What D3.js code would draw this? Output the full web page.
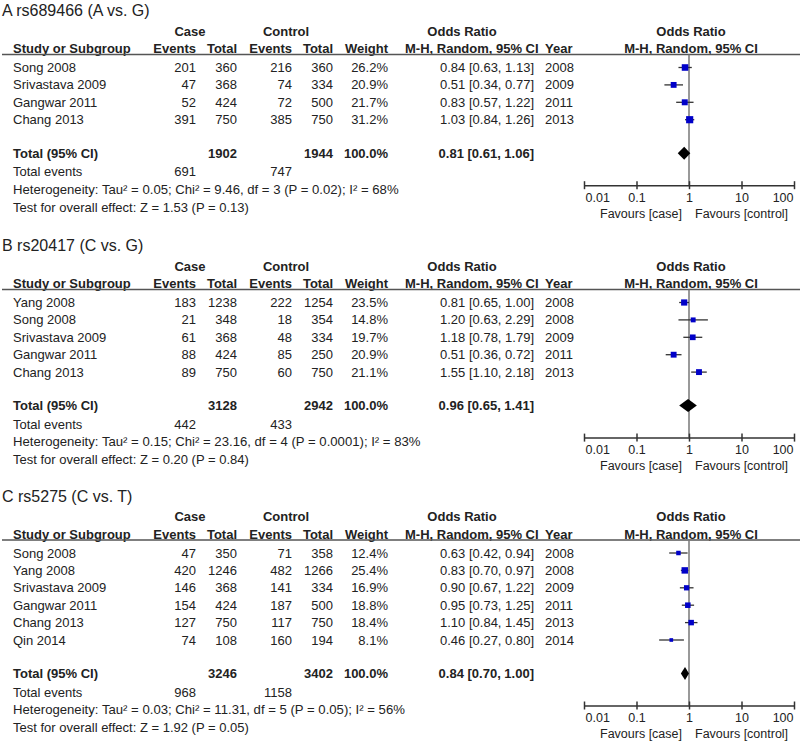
<!DOCTYPE html>
<html>
<head>
<meta charset="utf-8">
<script src="https://cdn.jsdelivr.net/npm/d3@7"></script>
<style>
  body { margin: 0; background: #fff; }
  svg text { font-family: "Liberation Sans", Arial, sans-serif; fill: #222; }
</style>
</head>
<body>
<svg id="chart" width="800" height="747"></svg>
<script>
// study rows: name, case events, case total, control events, control total, weight %, OR, lo, hi, year
const rowsA = [
    ['Song 2008', 201, 360, 216, 360, 26.2, 0.84, 0.63, 1.13, 2008],
    ['Srivastava 2009', 47, 368, 74, 334, 20.9, 0.51, 0.34, 0.77, 2009],
    ['Gangwar 2011', 52, 424, 72, 500, 21.7, 0.83, 0.57, 1.22, 2011],
    ['Chang 2013', 391, 750, 385, 750, 31.2, 1.03, 0.84, 1.26, 2013]
]
const rowsB = [
    ['Yang 2008', 183, 1238, 222, 1254, 23.5, 0.81, 0.65, 1.00, 2008],
    ['Song 2008', 21, 348, 18, 354, 14.8, 1.20, 0.63, 2.29, 2008],
    ['Srivastava 2009', 61, 368, 48, 334, 19.7, 1.18, 0.78, 1.79, 2009],
    ['Gangwar 2011', 88, 424, 85, 250, 20.9, 0.51, 0.36, 0.72, 2011],
    ['Chang 2013', 89, 750, 60, 750, 21.1, 1.55, 1.10, 2.18, 2013]
]
const rowsC = [
    ['Song 2008', 47, 350, 71, 358, 12.4, 0.63, 0.42, 0.94, 2008],
    ['Yang 2008', 420, 1246, 482, 1266, 25.4, 0.83, 0.70, 0.97, 2008],
    ['Srivastava 2009', 146, 368, 141, 334, 16.9, 0.90, 0.67, 1.22, 2009],
    ['Gangwar 2011', 154, 424, 187, 500, 18.8, 0.95, 0.73, 1.25, 2011],
    ['Chang 2013', 127, 750, 117, 750, 18.4, 1.10, 0.84, 1.45, 2013],
    ['Qin 2014', 74, 108, 160, 194, 8.1, 0.46, 0.27, 0.80, 2014]
]

// pooled: case total, control total, case events, control events, OR, lo, hi
const totalA = [1902, 1944, 691, 747, 0.81, 0.61, 1.06]
const totalB = [3128, 2942, 442, 433, 0.96, 0.65, 1.41]
const totalC = [3246, 3402, 968, 1158, 0.84, 0.70, 1.00]

const titles = ['A  rs689466 (A vs. G)', 'B  rs20417 (C vs. G)', 'C  rs5275 (C vs. T)']
const heterogeneity = [
    'Heterogeneity: Tau² = 0.05; Chi² = 9.46, df = 3 (P = 0.02); I² = 68%',
    'Heterogeneity: Tau² = 0.15; Chi² = 23.16, df = 4 (P = 0.0001); I² = 83%',
    'Heterogeneity: Tau² = 0.03; Chi² = 11.31, df = 5 (P = 0.05); I² = 56%'
]
const overall = [
    'Test for overall effect: Z = 1.53 (P = 0.13)',
    'Test for overall effect: Z = 0.20 (P = 0.84)',
    'Test for overall effect: Z = 1.92 (P = 0.05)'
]
const ticks = [0.01, 0.1, 1, 10, 100]

const panels = [
    {rows: rowsA, total: totalA},
    {rows: rowsB, total: totalB},
    {rows: rowsC, total: totalC}
]
const panelTop = [16, 251, 501.5]

const svg = d3.select('#chart')
const x = d3.scaleLog().domain([0.01, 100]).range([584, 794])
const fmt2 = d3.format('.2f')
const fmtW = d => d3.format('.1f')(d) + '%'
const orText = (o, l, h) => `${fmt2(o)} [${fmt2(l)}, ${fmt2(h)}]`

const FS = 13
const ROW = 17.4

// right edges of numeric columns
const col = {evC: 196, totC: 237, evK: 292, totK: 333, w: 388, or: 534}

const txt = (g, s, xx, yy, anchor, bold, size) =>
    g.append('text')
        .attr('x', xx)
        .attr('y', yy)
        .attr('text-anchor', anchor || 'start')
        .attr('font-weight', bold ? 'bold' : null)
        .style('font-size', (size || FS) + 'px')
        .text(s)

const drawPanel = (p, i) => {
    const T = panelTop[i]
    const g = svg.append('g')
    const {rows, total} = p

    txt(g, titles[i], 2, T, 'start', false, 16)

    // headers
    const h1 = T + 19.5, h2 = T + 37
    txt(g, 'Case', 190, h1, 'middle', true)
    txt(g, 'Control', 286, h1, 'middle', true)
    txt(g, 'Odds Ratio', 462, h1, 'middle', true)
    txt(g, 'Odds Ratio', 691, h1, 'middle', true)
    txt(g, 'Study or Subgroup', 13, h2, 'start', true)
    txt(g, 'Events', col.evC, h2, 'end', true)
    txt(g, 'Total', col.totC, h2, 'end', true)
    txt(g, 'Events', col.evK, h2, 'end', true)
    txt(g, 'Total', col.totK, h2, 'end', true)
    txt(g, 'Weight', col.w, h2, 'end', true)
    txt(g, 'M-H, Random, 95% CI', 405, h2, 'start', true)
    txt(g, 'Year', 545, h2, 'start', true)
    txt(g, 'M-H, Random, 95% CI', 691, h2, 'middle', true)

    const lineY = T + 38.5
    g.append('line')
        .attr('x1', 2).attr('x2', 800)
        .attr('y1', lineY).attr('y2', lineY)
        .attr('stroke', '#555').attr('stroke-width', 1.5)

    const y0 = T + 56
    const rowY = j => y0 + j * ROW
    const totY = rowY(rows.length - 1) + 33.5
    const axisY = totY + 27.5

    // OR = 1 reference line
    g.append('line')
        .attr('x1', x(1)).attr('x2', x(1))
        .attr('y1', lineY).attr('y2', axisY)
        .attr('stroke', '#777').attr('stroke-width', 1.5)

    rows.forEach((r, j) => {
        const yy = rowY(j)
        txt(g, r[0], 13, yy)
        txt(g, r[1], col.evC, yy, 'end')
        txt(g, r[2], col.totC, yy, 'end')
        txt(g, r[3], col.evK, yy, 'end')
        txt(g, r[4], col.totK, yy, 'end')
        txt(g, fmtW(r[5]), col.w, yy, 'end')
        txt(g, orText(r[6], r[7], r[8]), col.or, yy, 'end')
        txt(g, r[9], 545, yy, 'start')

        const cy = yy - 4.5
        g.append('line')
            .attr('x1', x(r[7])).attr('x2', x(r[8]))
            .attr('y1', cy).attr('y2', cy)
            .attr('stroke', '#333').attr('stroke-width', 1.3)
        const side = 1.28 * Math.sqrt(r[5])
        g.append('rect')
            .attr('x', x(r[6]) - side / 2)
            .attr('y', cy - side / 2)
            .attr('width', side).attr('height', side)
            .attr('fill', '#0000c8')
    })

    // pooled row
    txt(g, 'Total (95% CI)', 13, totY, 'start', true)
    txt(g, total[0], col.totC, totY, 'end', true)
    txt(g, total[1], col.totK, totY, 'end', true)
    txt(g, fmtW(100), col.w, totY, 'end', true)
    txt(g, orText(total[4], total[5], total[6]), col.or, totY, 'end', true)

    const dy = totY - 4.5
    g.append('path')
        .attr('d', d3.line()([
            [x(total[5]), dy], [x(total[4]), dy - 6.5],
            [x(total[6]), dy], [x(total[4]), dy + 6.5]
        ]) + 'Z')
        .attr('fill', '#000')

    const evY = totY + 18.5
    txt(g, 'Total events', 13, evY)
    txt(g, total[2], col.evC, evY, 'end')
    txt(g, total[3], col.evK, evY, 'end')
    txt(g, heterogeneity[i], 13, evY + 17.5, 'start', false, 13.15)
    txt(g, overall[i], 13, evY + 35.5)

    // log axis
    const ax = g.append('g')
        .attr('transform', `translate(0,${axisY})`)
        .call(d3.axisBottom(x).tickValues(ticks).tickFormat(d => String(d)).tickSizeOuter(0))
    ax.select('.domain').attr('stroke', '#333').attr('stroke-width', 1.5)
    ax.selectAll('.tick line').attr('y1', -4).attr('y2', 4)
        .attr('stroke', '#333').attr('stroke-width', 1.5)
    ax.selectAll('.tick text')
        .attr('y', 16.5).attr('dy', null)
        .attr('fill', '#222')
        .style('font-size', '12.5px')
        .attr('font-family', null)
        .attr('text-anchor', (d, k) => k === 0 ? 'start' : k === ticks.length - 1 ? 'end' : 'middle')
    ax.selectAll('.tick text').filter((d, k) => k === 0).attr('x', 1)
    ax.selectAll('.tick text').filter((d, k) => k === ticks.length - 1).attr('x', -1)

    txt(g, 'Favours [case]', x(1) - 7, axisY + 32.5, 'end', false, 12.5)
    txt(g, 'Favours [control]', x(1) + 6, axisY + 32.5, 'start', false, 12.5)
}

panels.forEach(drawPanel)
</script>
</body>
</html>
